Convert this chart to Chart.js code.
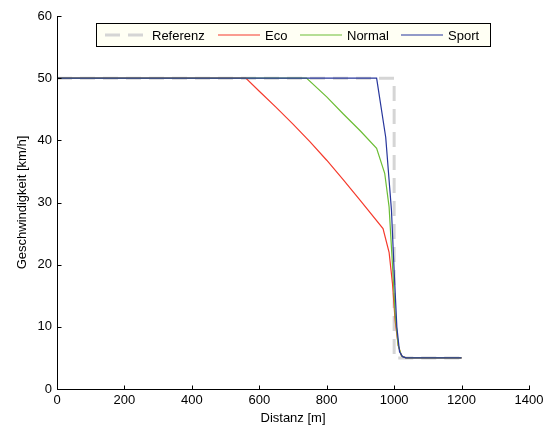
<!DOCTYPE html>
<html>
<head>
<meta charset="utf-8">
<script src="https://cdn.jsdelivr.net/npm/chart.js@4/dist/chart.umd.min.js"></script>
<style>
    html, body { margin: 0; padding: 0; background: #fff; }
    #wrap { width: 550px; height: 429px; }
</style>
</head>
<body>
<div id="wrap"><canvas id="chart"></canvas></div>
<script>
// Distanz [m] / Geschwindigkeit [km/h]
const refX = [0, 1000, 1000, 1200];
const refY = [50, 50, 5, 5];

const ecoX = [0, 560, 600, 650, 700, 750, 800, 850, 900, 967, 985, 995, 1003, 1012, 1022, 1035, 1200];
const ecoY = [50, 50, 47.9, 45.3, 42.6, 39.8, 36.8, 33.6, 30.3, 25.8, 22, 17, 11, 7, 5.3, 5, 5];

const normalX = [0, 740, 800, 850, 900, 948, 972, 985, 995, 1003, 1012, 1022, 1035, 1200];
const normalY = [50, 50, 47, 44.2, 41.5, 38.7, 34.7, 29.3, 20, 12, 7, 5.3, 5, 5];

const sportX = [0, 948, 975, 992, 1000, 1008, 1016, 1025, 1035, 1200];
const sportY = [50, 50, 40.5, 28.8, 19, 10, 6, 5.2, 5, 5];

const xTicks = [0, 200, 400, 600, 800, 1000, 1200, 1400];
const yTicks = [0, 10, 20, 30, 40, 50, 60];

const seriesNames = ['Referenz', 'Eco', 'Normal', 'Sport'];

const FONT = 'Liberation Sans, Arial, Helvetica, sans-serif';

function toPoints(xs, ys) {
    return xs.map((x, i) => ({ x: x, y: ys[i] }));
}

// left/bottom axis lines with inward tick marks, like the original plot
const innerTicks = {
    id: 'innerTicks',
    afterDraw(chart) {
        const ctx = chart.ctx;
        const xs = chart.scales.x;
        const ys = chart.scales.y;
        const area = chart.chartArea;
        const left = Math.round(area.left) + 0.5;
        const bottom = Math.round(area.bottom) + 0.5;
        ctx.save();
        ctx.strokeStyle = '#000';
        ctx.lineWidth = 1;
        ctx.beginPath();
        ctx.moveTo(left, Math.round(area.top));
        ctx.lineTo(left, bottom);
        ctx.lineTo(Math.round(area.right) + 1, bottom);
        xTicks.forEach(v => {
            const px = Math.round(xs.getPixelForValue(v)) + 0.5;
            ctx.moveTo(px, bottom);
            ctx.lineTo(px, bottom - 4);
        });
        yTicks.forEach(v => {
            const py = Math.round(ys.getPixelForValue(v)) + 0.5;
            ctx.moveTo(left, py);
            ctx.lineTo(left + 4, py);
        });
        ctx.stroke();
        ctx.restore();
    }
};

// boxed legend drawn inside the plot area
const boxLegend = {
    id: 'boxLegend',
    afterDraw(chart) {
        const ctx = chart.ctx;
        const box = { left: 96.5, top: 23.5, width: 394, height: 23 };
        ctx.save();
        ctx.fillStyle = '#fffff4';
        ctx.fillRect(box.left, box.top, box.width, box.height);
        ctx.strokeStyle = '#000';
        ctx.lineWidth = 1;
        ctx.strokeRect(box.left, box.top, box.width, box.height);

        const midY = box.top + box.height / 2;
        const lineStarts = [105, 218, 300, 401];
        const lineLen = 42;
        ctx.font = '13px ' + FONT;
        ctx.textBaseline = 'middle';
        ctx.textAlign = 'left';
        chart.data.datasets.forEach((ds, i) => {
            const x0 = lineStarts[i];
            ctx.beginPath();
            ctx.strokeStyle = ds.borderColor;
            ctx.lineWidth = ds.borderWidth;
            ctx.setLineDash(ds.borderDash || []);
            ctx.moveTo(x0, midY);
            ctx.lineTo(x0 + lineLen, midY);
            ctx.stroke();
            ctx.setLineDash([]);
            ctx.fillStyle = '#000';
            ctx.fillText(ds.label, x0 + lineLen + 5, midY + 1);
        });
        ctx.restore();
    }
};

document.addEventListener('DOMContentLoaded', () => {
    const ctx = document.getElementById('chart');

    new Chart(ctx, {
        type: 'line',
        data: {
            datasets: [
                {
                    label: seriesNames[0],
                    data: toPoints(refX, refY),
                    borderColor: '#d5d5d5',
                    borderWidth: 3,
                    borderDash: [15, 8],
                    order: 4
                },
                {
                    label: seriesNames[1],
                    data: toPoints(ecoX, ecoY),
                    borderColor: '#f53a2c',
                    borderWidth: 1.2,
                    order: 3
                },
                {
                    label: seriesNames[2],
                    data: toPoints(normalX, normalY),
                    borderColor: '#6cbd35',
                    borderWidth: 1.2,
                    order: 2
                },
                {
                    label: seriesNames[3],
                    data: toPoints(sportX, sportY),
                    borderColor: '#27369c',
                    borderWidth: 1.2,
                    order: 1
                }
            ]
        },
        options: {
            responsive: true,
            maintainAspectRatio: false,
            animation: false,
            elements: {
                point: { radius: 0 },
                line: { tension: 0 }
            },
            layout: {
                padding: { top: 16, right: 21, left: 0, bottom: 0 }
            },
            plugins: {
                legend: { display: false },
                tooltip: { enabled: false }
            },
            scales: {
                x: {
                    type: 'linear',
                    min: 0,
                    max: 1400,
                    afterBuildTicks: scale => {
                        scale.ticks = xTicks.map(v => ({ value: v }));
                    },
                    afterFit: scale => { scale.height = 40; },
                    grid: { display: false, drawTicks: false },
                    border: { display: false },
                    ticks: {
                        color: '#000',
                        padding: 4,
                        maxRotation: 0,
                        font: { family: FONT, size: 13 },
                        callback: value => String(value)
                    },
                    title: {
                        display: true,
                        text: 'Distanz [m]',
                        color: '#000',
                        padding: { top: 0, bottom: 3 },
                        font: { family: FONT, size: 13 }
                    }
                },
                y: {
                    type: 'linear',
                    min: 0,
                    max: 60,
                    afterBuildTicks: scale => {
                        scale.ticks = yTicks.map(v => ({ value: v }));
                    },
                    afterFit: scale => { scale.width = 57; },
                    grid: { display: false, drawTicks: false },
                    border: { display: false },
                    ticks: {
                        color: '#000',
                        padding: 5,
                        font: { family: FONT, size: 13 },
                        callback: value => String(value)
                    },
                    title: {
                        display: true,
                        text: 'Geschwindigkeit [km/h]',
                        color: '#000',
                        padding: { top: 15, bottom: 0 },
                        font: { family: FONT, size: 13 }
                    }
                }
            }
        },
        plugins: [innerTicks, boxLegend]
    });
});
</script>
</body>
</html>
